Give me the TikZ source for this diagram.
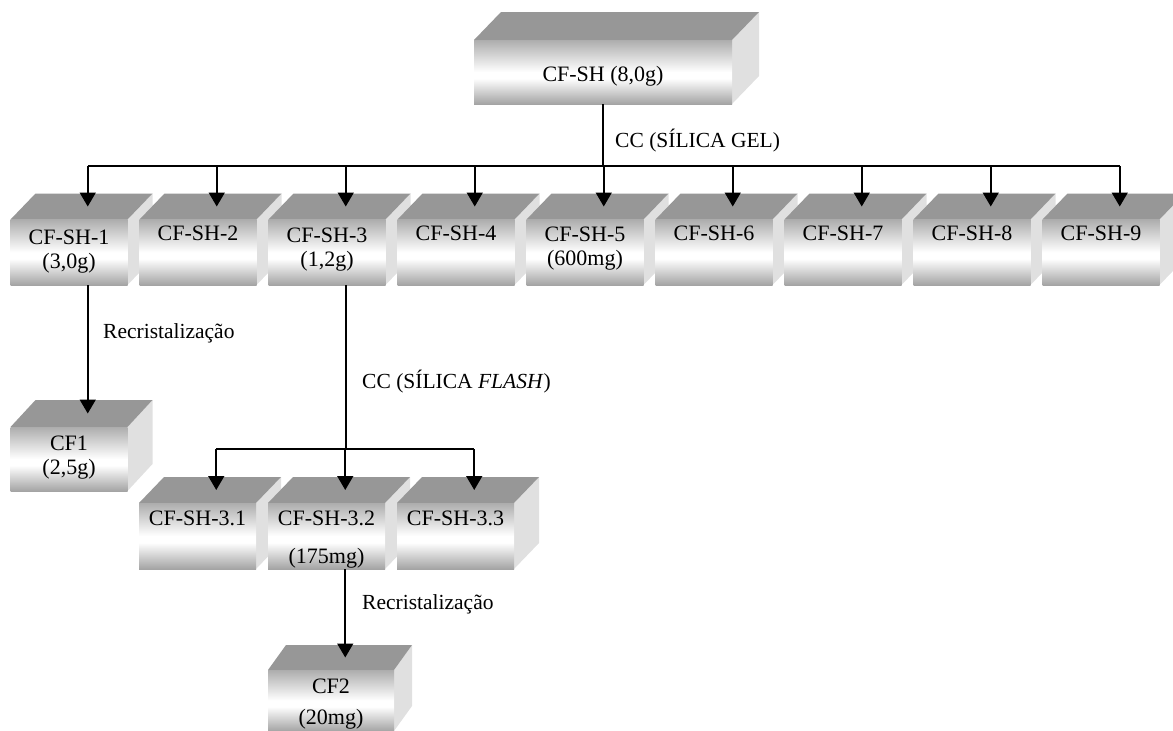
\documentclass[tikz,border=0pt]{standalone}
\usepackage{fontspec}
\setmainfont{Liberation Serif}
\usetikzlibrary{arrows.meta,calc}

\definecolor{cubeTopFace}{HTML}{979797}
\definecolor{cubeSideFace}{HTML}{E0E0E0}
\definecolor{cubeHi}{HTML}{ADADAD}
\definecolor{cubeLo}{HTML}{A4A4A4}
% front face: grey at the edges, white band a little below the middle
\pgfdeclareverticalshading{cubefront}{100bp}{color(0bp)=(cubeLo); color(25bp)=(cubeLo); color(45bp)=(white); color(50bp)=(white); color(75bp)=(cubeHi); color(100bp)=(cubeHi)}

% #1 name, #2 x, #3 y (top-left of the front face), #4 width, #5 height,
% #6 depth in x, #7 depth in y
\newcommand\cubebox[7]{%
  \fill[cubeSideFace] (#2+#4,#3) -- ++(#6,-#7) -- ++(0,#5) -- ++(-#6,#7) -- cycle;
  \fill[cubeTopFace] (#2,#3) -- ++(#6,-#7) -- ++(#4,0) -- ++(-#6,#7) -- cycle;
  \node[frontface, minimum width=#4pt, minimum height=#5pt, anchor=north west] (#1) at (#2,#3) {};
  \coordinate (#1-t) at ($(#1.north)+(0.75*#6,-0.5*#7)$);
}
\newcommand\twolines[3][0pt]{\begin{tabular}[t]{@{}c@{}}#2\\[#1]#3\end{tabular}}

\begin{document}
\begin{tikzpicture}[x=1pt,y=-1pt,
  conn/.style={line width=1.6pt},
  arr/.style={conn,-{Triangle[width=16pt,length=14pt]}},
  frontface/.style={shade, shading=cubefront, inner sep=0pt, outer sep=0pt},
  boxtext/.style={anchor=base, inner sep=0pt, font=\fontsize{22}{24}\selectfont},
  lbl/.style={anchor=base west, inner sep=0pt, font=\fontsize{21.5}{24}\selectfont}]
\useasboundingbox (0,0) rectangle (1173,731);

% crude extract
\cubebox{top}{474}{40}{258}{64}{27}{28}
\node[boxtext] (top-l) at ([yshift=-41pt]top.north) {CF-SH (8,0g)};

% first column fractions
\cubebox{s1}{10.5}{219.5}{117}{65.5}{25}{26}
\node[boxtext] (s1-l) at ([yshift=-25pt]s1.north) {\twolines{CF-SH-1}{(3,0g)}};
\cubebox{s2}{139.5}{219.5}{117}{65.5}{25}{26}
\node[boxtext] (s2-l) at ([yshift=-21pt]s2.north) {CF-SH-2};
\cubebox{s3}{268.5}{219.5}{117}{65.5}{25}{26}
\node[boxtext] (s3-l) at ([yshift=-23pt]s3.north) {\twolines{CF-SH-3}{(1,2g)}};
\cubebox{s4}{397.5}{219.5}{117}{65.5}{25}{26}
\node[boxtext] (s4-l) at ([yshift=-21pt]s4.north) {CF-SH-4};
\cubebox{s5}{526.5}{219.5}{117}{65.5}{25}{26}
\node[boxtext] (s5-l) at ([yshift=-22pt]s5.north) {\twolines{CF-SH-5}{(600mg)}};
\cubebox{s6}{655.5}{219.5}{117}{65.5}{25}{26}
\node[boxtext] (s6-l) at ([yshift=-21pt]s6.north) {CF-SH-6};
\cubebox{s7}{784.5}{219.5}{117}{65.5}{25}{26}
\node[boxtext] (s7-l) at ([yshift=-21pt]s7.north) {CF-SH-7};
\cubebox{s8}{913.5}{219.5}{117}{65.5}{25}{26}
\node[boxtext] (s8-l) at ([yshift=-21pt]s8.north) {CF-SH-8};
\cubebox{s9}{1042.5}{219.5}{117}{65.5}{25}{26}
\node[boxtext] (s9-l) at ([yshift=-21pt]s9.north) {CF-SH-9};

% recrystallised product of CF-SH-1
\cubebox{cf1}{10.5}{427}{117}{64}{25}{27}
\node[boxtext] (cf1-l) at ([yshift=-23pt]cf1.north) {\twolines{CF1}{(2,5g)}};

% flash column fractions of CF-SH-3
\cubebox{t1}{139}{503}{117}{66}{25}{26}
\node[boxtext] (t1-l) at ([yshift=-22pt]t1.north) {CF-SH-3.1};
\cubebox{t2}{268}{503}{117}{66}{25}{26}
\node[boxtext] (t2-l) at ([yshift=-22pt]t2.north) {\twolines[14pt]{CF-SH-3.2}{(175mg)}};
\cubebox{t3}{397}{503}{117}{66}{25}{26}
\node[boxtext] (t3-l) at ([yshift=-22pt]t3.north) {CF-SH-3.3};

% recrystallised product of CF-SH-3.2
\cubebox{cf2}{268}{670}{126}{61}{18}{25}
\node[boxtext] (cf2-l) at ([yshift=-23pt]cf2.north) {\twolines[7pt]{CF2}{(20mg)}};

% connectors
\coordinate (bar1) at (603,166);
\coordinate (bar2) at (346,449);
\draw[conn] (top.south) -- (bar1);
\draw[conn] (s1-t |- bar1) -- (s9-t |- bar1);
\foreach \n in {s1,s2,s3,s4,s5,s6,s7,s8,s9}
  \draw[arr] (\n-t |- bar1) -- (\n-t);
\draw[arr] (s1-t |- s1.south) -- (cf1-t);
\draw[conn] (s3-t |- s3.south) -- (s3-t |- bar2);
\draw[conn] (t1-t |- bar2) -- (t3-t |- bar2);
\foreach \n in {t1,t2,t3}
  \draw[arr] (\n-t |- bar2) -- (\n-t);
\draw[arr] (t2-t |- t2.south) -- (t2-t |- cf2-t);

% step labels
\node[lbl] (lab1) at (615,147) {CC (SÍLICA GEL)};
\node[lbl] (lab2) at (103,338) {Recristalização};
\node[lbl] (lab3) at (362,388) {CC (SÍLICA \textit{FLASH})};
\node[lbl] (lab4) at (362,609) {Recristalização};
\end{tikzpicture}
\end{document}
